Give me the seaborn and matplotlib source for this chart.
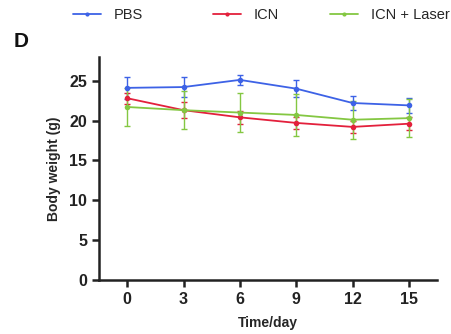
import matplotlib
matplotlib.use("Agg")
import matplotlib.pyplot as plt
import seaborn as sns
import pandas as pd
from matplotlib.lines import Line2D

days = [0, 3, 6, 9, 12, 15]
groups = ["PBS", "ICN", "ICN + Laser"]
pbs_mean = [24.1, 24.2, 25.1, 24.0, 22.2, 21.9]
pbs_sd = [1.4, 1.3, 0.6, 1.1, 0.9, 0.9]
icn_mean = [22.8, 21.3, 20.4, 19.7, 19.2, 19.6]
icn_sd = [0.7, 1.0, 0.8, 0.8, 0.8, 0.8]
laser_mean = [21.7, 21.3, 21.0, 20.7, 20.1, 20.3]
laser_sd = [2.4, 2.4, 2.5, 2.6, 2.4, 2.4]
colors = ["#3d62e6", "#e3203c", "#84c742"]

sns.set_theme(style="ticks")
plt.rcParams["font.family"] = ["Liberation Sans", "DejaVu Sans"]

rows = []
for g, m, s in zip(groups, [pbs_mean, icn_mean, laser_mean], [pbs_sd, icn_sd, laser_sd]):
    for d, mv, sv in zip(days, m, s):
        rows.append({"day": d, "group": g, "mean": mv, "sd": sv})
df = pd.DataFrame(rows)

fig = plt.figure(figsize=(4.52, 3.34), dpi=100)
ax = fig.add_axes([0.219, 0.162, 0.748, 0.668])

for g, c in zip(groups, colors):
    sub = df[df.group == g]
    ax.errorbar(sub["day"], sub["mean"], yerr=sub["sd"], fmt="none",
                ecolor=c, elinewidth=1.0, capsize=2.5, capthick=1.0, zorder=2)

sns.lineplot(data=df, x="day", y="mean", hue="group", hue_order=groups,
             palette=colors, marker="o", markersize=4, markeredgewidth=0,
             linewidth=1.3, ax=ax, legend=False, zorder=3)

ax.set_xlim(-1.5, 16.5)
ax.set_ylim(0, 28)
ax.set_xticks(days)
ax.set_yticks([0, 5, 10, 15, 20, 25])
ax.tick_params(axis="both", width=1.8, length=5, labelsize=11.5, colors="#222222")
for lbl in ax.get_xticklabels() + ax.get_yticklabels():
    lbl.set_fontweight("bold")
for sp in ["left", "bottom"]:
    ax.spines[sp].set_linewidth(1.8)
    ax.spines[sp].set_color("#222222")
sns.despine(ax=ax)
ax.set_xlabel("Time/day", fontsize=10, fontweight="bold", labelpad=7)
ax.set_ylabel("Body weight (g)", fontsize=10, fontweight="bold", labelpad=6)

# legend entries placed individually
x_starts = [73, 213, 330]
for g, c, xs in zip(groups, colors, x_starts):
    h = Line2D([0], [0], color=c, marker="o", markersize=3, linewidth=1.3,
               markeredgewidth=0)
    fig.legend([h], [g], loc="center left",
               bbox_to_anchor=(xs / 452, 1 - 15 / 334),
               frameon=False, handlelength=1.9, handletextpad=0.9,
               borderpad=0, borderaxespad=0,
               prop={"family": "Liberation Sans", "size": 10.5})

fig.text(0.03, 0.86, "D", fontsize=15, fontweight="bold", color="#111111")

fig.savefig("out.png", dpi=100)
